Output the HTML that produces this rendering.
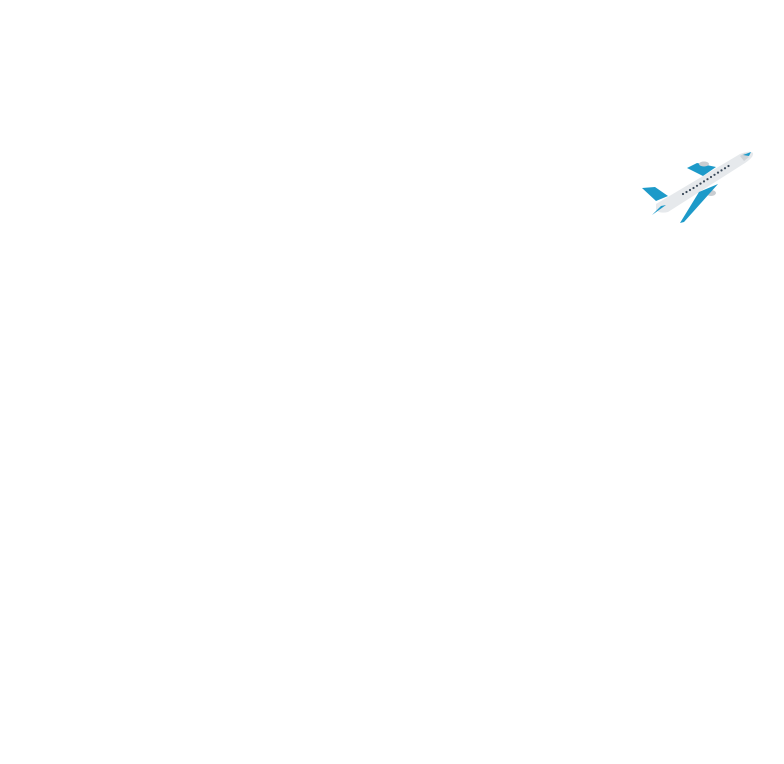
<!DOCTYPE html>
<html><head><style>html,body{margin:0;padding:0;background:#fff;width:784px;height:764px;overflow:hidden}</style></head>
<body>
<svg width="784" height="764" viewBox="0 0 784 764" xmlns="http://www.w3.org/2000/svg">
<polygon points="687,168 697,163 716,167 703,176" fill="#1d9ac9"/>
<ellipse cx="704" cy="164" rx="5" ry="2.5" fill="#c9cdd1"/>
<polygon points="642,188 655,187 668,196 656,201" fill="#1d9ac9"/>
<path d="M656,204 L740,154 Q750,150 753,153 Q754,157 745,163 L668,212 Q660,214 656,210 Z" fill="#e6e9ec"/>
<polygon points="740,156 745,153 749,157 744,161" fill="#d0d4d8"/>
<polygon points="743,155 751,152 749,156" fill="#1d9ac9"/>
<polygon points="652,215 661,206 666,205" fill="#1d9ac9"/>
<ellipse cx="711" cy="193" rx="5" ry="3" fill="#c9cdd1"/>
<polygon points="699,192 718,184 684,222 680,223" fill="#1d9ac9"/>
<g fill="#3b4a5a">
<circle cx="683" cy="194" r="1.1"/><circle cx="686.5" cy="192" r="1.1"/><circle cx="690" cy="190" r="1.1"/><circle cx="693.5" cy="188" r="1.1"/><circle cx="697" cy="185.8" r="1.1"/><circle cx="700.5" cy="183.6" r="1.1"/><circle cx="704" cy="181.4" r="1.1"/><circle cx="707.5" cy="179.2" r="1.1"/><circle cx="711" cy="177" r="1.1"/><circle cx="714.5" cy="174.8" r="1.1"/><circle cx="718" cy="172.6" r="1.1"/><circle cx="721.5" cy="170.4" r="1.1"/><circle cx="725" cy="168.2" r="1.1"/><circle cx="728.5" cy="166" r="1.1"/>
</g>
</svg>
</body></html>
